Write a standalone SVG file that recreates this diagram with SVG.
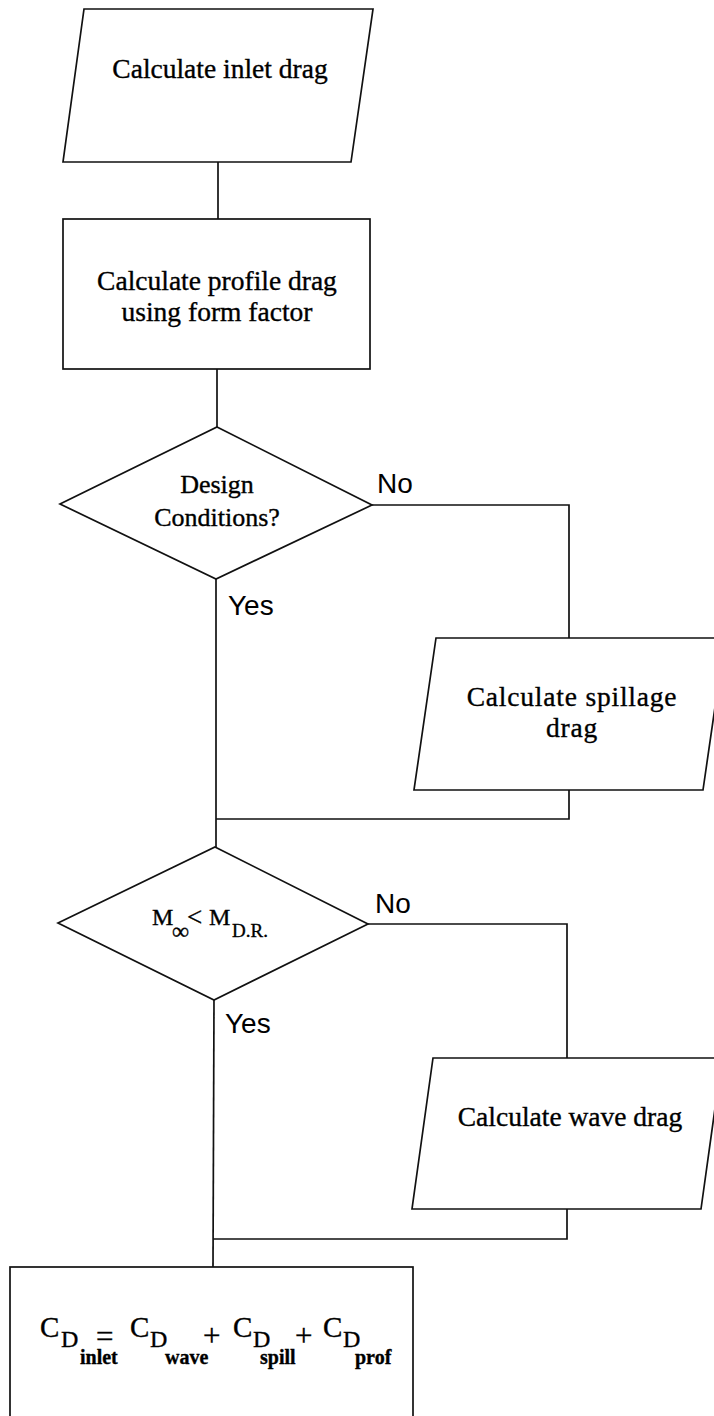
<svg xmlns="http://www.w3.org/2000/svg" width="714" height="1416" viewBox="0 0 714 1416">
<style>
.shape{fill:#fff;stroke:#111;stroke-width:1.7}
.conn{fill:none;stroke:#111;stroke-width:1.7}
.t{font-family:"Liberation Serif","Times New Roman",serif;font-size:27.5px;fill:#000;stroke:#000;stroke-width:0.35;text-anchor:middle}
.lbl{font-family:"Liberation Sans",Arial,sans-serif;font-size:28px;fill:#000}
.f{font-family:"Liberation Serif","Times New Roman",serif;fill:#000;stroke:#000;stroke-width:0.35}
.big{font-size:29px}
.op{font-size:31px}
.sub{font-size:24px}
.ss{font-size:20px;font-weight:bold}
</style>
<rect width="714" height="1416" fill="#fff"/>
<g id="connectors">
<polyline class="conn" points="218,162 218,219"/>
<polyline class="conn" points="217,369 217,427"/>
<polyline class="conn" points="372,505 569,505 569,638"/>
<polyline class="conn" points="569,790 569,819 216,819"/>
<polyline class="conn" points="216,579 216,847"/>
<polyline class="conn" points="368,924 567,924 567,1058"/>
<polyline class="conn" points="567,1209 567,1239 213,1239"/>
<polyline class="conn" points="214,1000 213,1267"/>
</g>
<g id="inlet-drag">
<polygon class="shape" points="84,9 373,9 351,162 63,162"/>
<text class="t" x="220" y="78">Calculate inlet drag</text>
</g>
<g id="profile-drag">
<rect class="shape" x="63" y="219" width="307" height="150"/>
<text class="t" x="217" y="290">Calculate profile drag</text>
<text class="t" x="217" y="321">using form factor</text>
</g>
<g id="design-conditions">
<polygon class="shape" points="217,427 372,505 216,579 60,504"/>
<text class="t" x="217" y="493" style="font-size:26px">Design</text>
<text class="t" x="217" y="526" style="font-size:26px">Conditions?</text>
<text class="lbl" x="377" y="493">No</text>
<text class="lbl" x="228" y="615">Yes</text>
</g>
<g id="spillage-drag">
<polygon class="shape" points="436,638 725,638 703,790 414,790"/>
<text class="t" x="572" y="706" letter-spacing="0.8">Calculate spillage</text>
<text class="t" x="572" y="737" letter-spacing="0.8">drag</text>
</g>
<g id="mach-check">
<polygon class="shape" points="215,847 368,924 214,1000 58,923"/>
<text class="f" x="152" y="925" style="font-size:24px">M</text>
<text class="f" x="172" y="939" style="font-size:24px">∞</text>
<text class="f" x="187" y="926" style="font-size:27px">&lt;</text>
<text class="f" x="209" y="925" style="font-size:24px">M</text>
<text class="f" x="232" y="937" style="font-size:19px">D.R.</text>
<text class="lbl" x="375" y="913">No</text>
<text class="lbl" x="225" y="1033">Yes</text>
</g>
<g id="wave-drag">
<polygon class="shape" points="433,1058 722,1058 701,1209 412,1209"/>
<text class="t" x="570" y="1126">Calculate wave drag</text>
</g>
<g id="total-drag">
<rect class="shape" x="10" y="1267" width="403" height="160"/>
<text class="f big" x="40" y="1337">C</text>
<text class="f sub" x="61" y="1347">D</text>
<text class="f ss" x="80" y="1364">inlet</text>
<text class="f op" x="96" y="1347">=</text>
<text class="f big" x="130" y="1337">C</text>
<text class="f sub" x="150" y="1347">D</text>
<text class="f ss" x="165" y="1364">wave</text>
<text class="f op" x="203" y="1346">+</text>
<text class="f big" x="233" y="1337">C</text>
<text class="f sub" x="253" y="1347">D</text>
<text class="f ss" x="260" y="1364">spill</text>
<text class="f op" x="295" y="1346">+</text>
<text class="f big" x="323" y="1337">C</text>
<text class="f sub" x="343" y="1347">D</text>
<text class="f ss" x="355" y="1364">prof</text>
</g>
</svg>
